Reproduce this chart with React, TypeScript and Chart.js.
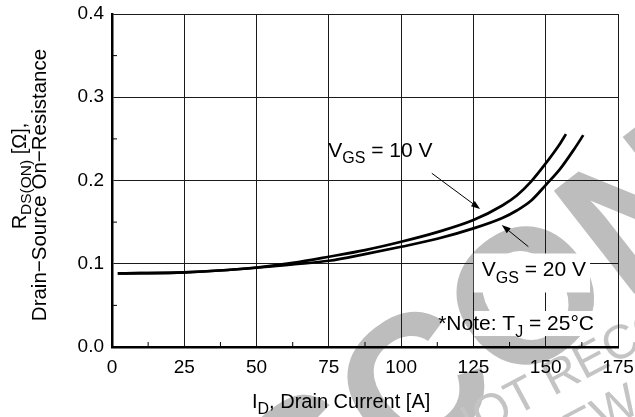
import React, { useEffect, useRef } from 'react';
import { Chart, registerables } from 'chart.js';

Chart.register(...registerables);

// ---- data ----
const id10V = [2, 10, 25, 40, 50, 62.5, 75, 87.5, 100, 112.5, 125, 135, 140, 145, 150, 155, 157];
const rds10V = [0.0885, 0.0887, 0.0897, 0.0925, 0.0955, 0.101, 0.1084, 0.1164, 0.1264, 0.138, 0.1525, 0.17, 0.182, 0.199, 0.2205, 0.2445, 0.2557];
const id20V = [2, 10, 25, 40, 50, 62.5, 75, 87.5, 100, 112.5, 125, 135, 140, 145, 150, 155, 160, 163];
const rds20V = [0.0885, 0.0887, 0.0897, 0.0925, 0.0952, 0.0993, 0.1036, 0.1116, 0.1204, 0.13, 0.1425, 0.155, 0.164, 0.176, 0.1945, 0.214, 0.2385, 0.2545];

const xTickValues = [0, 25, 50, 75, 100, 125, 150, 175];
const yTickValues = [0, 0.1, 0.2, 0.3, 0.4];
const xMinorTicks = [12.5, 37.5, 62.5, 87.5, 112.5, 137.5, 162.5];
const yMinorTicks = [0.05, 0.15, 0.25, 0.35];

// annotation anchors in data units
const label10Pos = [74.8, 0.2285];
const arrow10 = [110.6, 0.2087, 127.3, 0.1658];
const label20Pos = [127.9, 0.0847];
const arrow20 = [144.0, 0.1205, 134.8, 0.1465];
const notePos = [112.8, 0.0204];

const FONT = '"Liberation Sans", Arial, Helvetica, sans-serif';

type Part = { t: string; sub?: boolean };

function richWidth(ctx: CanvasRenderingContext2D, parts: Part[], size: number, sub: number) {
  let w = 0;
  for (const p of parts) {
    ctx.font = `${p.sub ? sub : size}px ${FONT}`;
    w += ctx.measureText(p.t).width;
  }
  return w;
}

function drawRich(ctx: CanvasRenderingContext2D, parts: Part[], x: number, y: number, size: number, sub: number, subDy: number, align: 'left' | 'center' = 'left') {
  const w = richWidth(ctx, parts, size, sub);
  let cx = align === 'center' ? x - w / 2 : x;
  ctx.textBaseline = 'alphabetic';
  ctx.textAlign = 'left';
  for (const p of parts) {
    ctx.font = `${p.sub ? sub : size}px ${FONT}`;
    ctx.fillText(p.t, cx, y + (p.sub ? subDy : 0));
    cx += ctx.measureText(p.t).width;
  }
  return w;
}

function drawArrow(ctx: CanvasRenderingContext2D, x1: number, y1: number, x2: number, y2: number) {
  const ang = Math.atan2(y2 - y1, x2 - x1);
  const len = 9;
  const hw = 3.2;
  ctx.strokeStyle = '#000';
  ctx.fillStyle = '#000';
  ctx.lineWidth = 1;
  ctx.beginPath();
  ctx.moveTo(x1, y1);
  ctx.lineTo(x2 - Math.cos(ang) * len * 0.8, y2 - Math.sin(ang) * len * 0.8);
  ctx.stroke();
  ctx.beginPath();
  ctx.moveTo(x2, y2);
  ctx.lineTo(x2 - Math.cos(ang) * len - Math.sin(ang) * hw, y2 - Math.sin(ang) * len + Math.cos(ang) * hw);
  ctx.lineTo(x2 - Math.cos(ang) * len + Math.sin(ang) * hw, y2 - Math.sin(ang) * len - Math.cos(ang) * hw);
  ctx.closePath();
  ctx.fill();
}

const decorPlugin = {
  id: 'decor',
  beforeDraw(chart: any) {
    const ctx: CanvasRenderingContext2D = chart.ctx;
    ctx.save();
    // watermark
    ctx.fillStyle = '#bdbdbd';
    ctx.translate(150, 672);
    ctx.rotate((-38 * Math.PI) / 180);
    ctx.font = `bold 190px ${FONT}`;
    ctx.textBaseline = 'alphabetic';
    ctx.textAlign = 'left';
    ctx.fillText('DISCONTINUED', 0, 0);
    ctx.restore();

    ctx.save();
    ctx.fillStyle = '#c4c4c4';
    ctx.translate(452, 450);
    ctx.rotate((-28 * Math.PI) / 180);
    ctx.font = `48px ${FONT}`;
    ctx.textBaseline = 'alphabetic';
    ctx.fillText('NOT RECOMMENDED', 0, 0);
    ctx.fillText('FOR NEW DESIGN', -40, 55);
    ctx.restore();
  },
  afterDraw(chart: any) {
    const ctx: CanvasRenderingContext2D = chart.ctx;
    const xs = chart.scales.x;
    const ys = chart.scales.y;
    const area = chart.chartArea;
    const px = (v: number) => xs.getPixelForValue(v);
    const py = (v: number) => ys.getPixelForValue(v);
    ctx.save();

    // minor ticks
    ctx.strokeStyle = '#000';
    ctx.lineWidth = 1;
    for (const v of yMinorTicks) {
      ctx.beginPath();
      ctx.moveTo(area.left, py(v));
      ctx.lineTo(area.left + 5, py(v));
      ctx.stroke();
    }
    for (const v of xMinorTicks) {
      ctx.beginPath();
      ctx.moveTo(px(v), area.bottom);
      ctx.lineTo(px(v), area.bottom - 5);
      ctx.stroke();
    }

    const F = 21;
    const S = 16;
    const SD = 6.5;
    ctx.fillStyle = '#000';

    // VGS = 10 V
    const l10: Part[] = [{ t: 'V' }, { t: 'GS', sub: true }, { t: ' = 10 V' }];
    drawRich(ctx, l10, px(label10Pos[0]), py(label10Pos[1]), F, S, SD);
    drawArrow(ctx, px(arrow10[0]), py(arrow10[1]), px(arrow10[2]), py(arrow10[3]));

    // VGS = 20 V with white box
    const l20: Part[] = [{ t: 'V' }, { t: 'GS', sub: true }, { t: ' = 20 V' }];
    const w20 = richWidth(ctx, l20, F, S);
    const x20 = px(label20Pos[0]);
    const y20 = py(label20Pos[1]);
    ctx.fillStyle = '#fff';
    ctx.fillRect(x20 - 8, y20 - 23, w20 + 12, 39);
    ctx.fillStyle = '#000';
    drawRich(ctx, l20, x20, y20, F, S, SD);
    drawArrow(ctx, px(arrow20[0]), py(arrow20[1]), px(arrow20[2]), py(arrow20[3]));

    // note
    const note: Part[] = [{ t: '*Note: T' }, { t: 'J', sub: true }, { t: ' = 25\u00B0C' }];
    const wn = richWidth(ctx, note, F, S);
    const xn = px(notePos[0]);
    const yn = py(notePos[1]);
    ctx.fillStyle = '#fff';
    ctx.fillRect(xn + 36, yn - 19, wn - 34, 25);
    ctx.fillStyle = '#000';
    drawRich(ctx, note, xn, yn, F, S, SD);

    // x title
    const xt: Part[] = [{ t: 'I' }, { t: 'D', sub: true }, { t: ', Drain Current [A]' }];
    drawRich(ctx, xt, 252, 408, 20, 16, 5.5);

    // y title
    ctx.save();
    ctx.translate(25.5, 176);
    ctx.rotate(-Math.PI / 2);
    const yt1: Part[] = [{ t: 'R' }, { t: 'DS(ON)', sub: true }, { t: ' [\u03A9],' }];
    drawRich(ctx, yt1, 0, 0, 20, 15.5, 5.5, 'center');
    ctx.restore();
    ctx.save();
    ctx.translate(46, 185);
    ctx.rotate(-Math.PI / 2);
    drawRich(ctx, [{ t: 'Drain\u2212Source On\u2212Resistance' }], 0, 0, 20.5, 15, 5, 'center');
    ctx.restore();

    ctx.restore();
  },
};

export default function App() {
  const ref = useRef<HTMLCanvasElement | null>(null);
  useEffect(() => {
    if (!ref.current) return;
    const chart = new Chart(ref.current, {
      type: 'line',
      data: {
        datasets: [
          {
            label: 'VGS = 10 V',
            data: id10V.map((x, i) => ({ x, y: rds10V[i] })),
            borderColor: '#000',
            borderWidth: 2.7,
            pointRadius: 0,
            cubicInterpolationMode: 'monotone',
            fill: false,
          },
          {
            label: 'VGS = 20 V',
            data: id20V.map((x, i) => ({ x, y: rds20V[i] })),
            borderColor: '#000',
            borderWidth: 2.7,
            pointRadius: 0,
            cubicInterpolationMode: 'monotone',
            fill: false,
          },
        ],
      },
      options: {
        responsive: false,
        animation: false,
        events: [],
        layout: { padding: { left: 0, top: 14, right: 17, bottom: 0 } },
        plugins: { legend: { display: false }, tooltip: { enabled: false } },
        scales: {
          x: {
            type: 'linear',
            min: 0,
            max: 175,
            afterBuildTicks: (s: any) => {
              s.ticks = xTickValues.map((v) => ({ value: v }));
            },
            afterFit: (s: any) => {
              s.height = 70;
              s.paddingLeft = 0;
              s.paddingRight = 0;
            },
            ticks: {
              color: '#000',
              font: { family: FONT, size: 19 },
              padding: 9,
              maxRotation: 0,
              autoSkip: false,
              callback: (v: any) => String(v),
            },
            grid: { color: '#1a1a1a', lineWidth: 1, drawTicks: false },
            border: { color: '#000', width: 2.5 },
          },
          y: {
            type: 'linear',
            min: 0,
            max: 0.4,
            afterBuildTicks: (s: any) => {
              s.ticks = yTickValues.map((v) => ({ value: v }));
            },
            afterFit: (s: any) => {
              s.width = 112;
              s.paddingTop = 0;
              s.paddingBottom = 0;
            },
            ticks: {
              color: '#000',
              font: { family: FONT, size: 19 },
              padding: 8,
              autoSkip: false,
              callback: (v: any) => Number(v).toFixed(1),
            },
            grid: { color: '#1a1a1a', lineWidth: 1, drawTicks: false },
            border: { color: '#000', width: 2.5 },
          },
        },
      },
      plugins: [decorPlugin],
    } as any);
    return () => chart.destroy();
  }, []);
  return (
    <div style={{ position: 'absolute', left: 0, top: 0, width: 635, height: 417, background: '#fff' }}>
      <canvas ref={ref} width={635} height={417} style={{ width: 635, height: 417, display: 'block' }} />
    </div>
  );
}
